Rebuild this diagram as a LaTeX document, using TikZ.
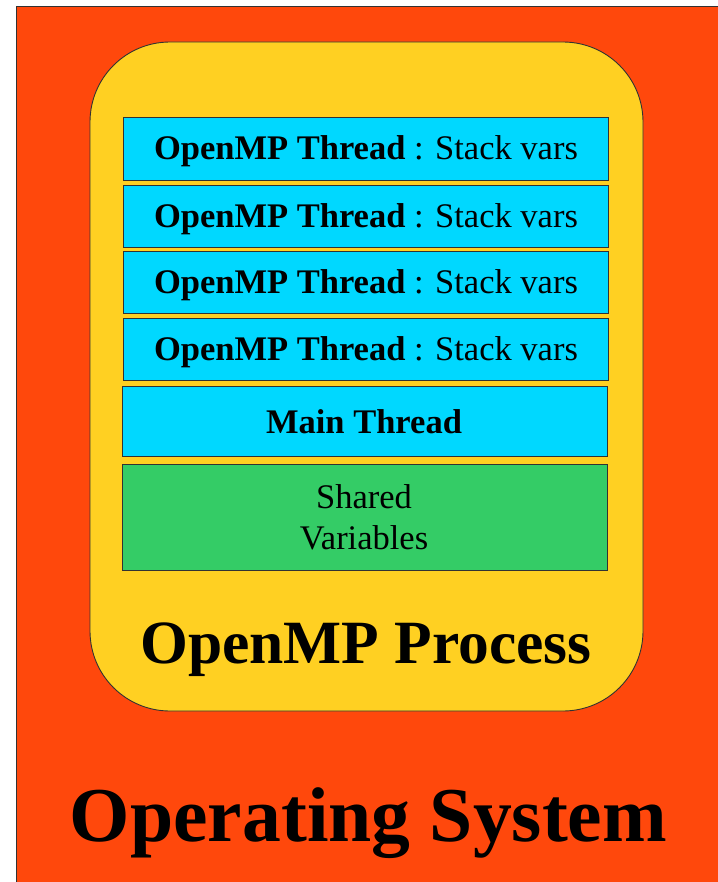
\documentclass[tikz,border=0pt]{standalone}
\usepackage{fontspec}
\setmainfont{Liberation Serif}
\definecolor{osorange}{RGB}{255,72,12}
\definecolor{procyellow}{RGB}{255,208,34}
\definecolor{threadcyan}{RGB}{0,216,255}
\definecolor{sharedgreen}{RGB}{52,204,102}
\definecolor{edgegray}{RGB}{50,50,50}
\tikzset{
  layerbox/.style={draw=edgegray, line width=0.9pt, rectangle, inner sep=0pt},
  threadbox/.style={layerbox, fill=threadcyan, minimum width=485pt, minimum height=62pt},
  boxtext/.style={anchor=base, inner sep=0pt, font=\fontsize{34.5}{42}\selectfont},
}
\begin{document}
\begin{tikzpicture}[x=1pt,y=-1pt]
  \useasboundingbox (0,0) rectangle (717,882);
  % operating system background
  \draw[fill=osorange, draw=edgegray, line width=0.9pt] (16,6) rectangle (730,900);
  % process container
  \draw[fill=procyellow, draw=edgegray, line width=0.9pt, rounded corners=80pt] (90,42) rectangle (643,711);
  % thread stack
  \node[threadbox, minimum height=63pt] (t1) at (365.5,148.5) {};
  \node[threadbox] (t2) at (365.5,216) {};
  \node[threadbox] (t3) at (365.5,282) {};
  \node[threadbox] (t4) at (365.5,349) {};
  \node[layerbox, fill=threadcyan, minimum width=485pt, minimum height=70pt] (main) at (364.5,421) {};
  \node[layerbox, fill=sharedgreen, minimum width=485pt, minimum height=106pt] (shared) at (364.5,517) {};
  % labels
  \foreach \b/\y in {t1/160, t2/227.5, t3/293.5, t4/360.5}
    \node[boxtext] (\b label) at (366,\y) {\textbf{OpenMP Thread} : Stack vars};
  \node[boxtext] (mainlabel) at (364,433.5) {\textbf{Main Thread}};
  \node[boxtext] (sharedlabel1) at (364,508) {Shared};
  \node[boxtext] (sharedlabel2) at (364,549) {Variables};
  \node[anchor=base, inner sep=0pt, font=\fontsize{61.5}{70}\selectfont\bfseries] (proclabel) at (366,663) {OpenMP Process};
  \node[anchor=base, inner sep=0pt, font=\fontsize{77.6}{88}\selectfont\bfseries] (oslabel) at (368.5,841) {Operating System};
\end{tikzpicture}
\end{document}
